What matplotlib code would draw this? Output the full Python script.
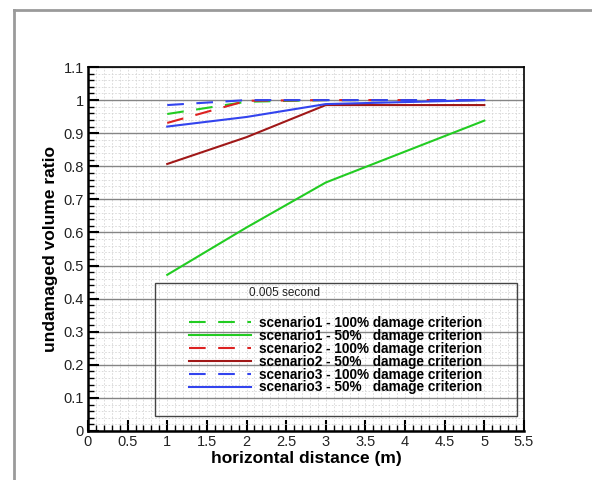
import matplotlib
matplotlib.use('Agg')
import matplotlib.pyplot as plt
from matplotlib.ticker import MultipleLocator
from matplotlib.patches import Rectangle
from matplotlib.lines import Line2D

plt.rcParams['font.family'] = ['Liberation Sans', 'DejaVu Sans']

# distances (m)
x = [1, 2, 3, 5]

# undamaged volume ratio per scenario
s1_100 = [0.958, 0.995, 1.0, 1.0]
s1_50 = [0.472, 0.615, 0.751, 0.938]
s2_100 = [0.931, 0.998, 1.0, 1.0]
s2_50 = [0.807, 0.888, 0.985, 0.985]
s3_100 = [0.985, 1.0, 1.0, 1.0]
s3_50 = [0.920, 0.949, 0.988, 1.0]

labels = ['scenario1 - 100% damage criterion',
          'scenario1 - 50%   damage criterion',
          'scenario2 - 100% damage criterion',
          'scenario2 - 50%   damage criterion',
          'scenario3 - 100% damage criterion',
          'scenario3 - 50%   damage criterion']

green = '#22cc22'
red_d = '#dd2222'
red_s = '#a01818'
blue = '#3344ee'
dash = (0, (8, 6))

fig = plt.figure(figsize=(5.92, 4.8), dpi=100)
ax = fig.add_axes([0.1486, 0.1021, 0.7365, 0.7583])

# outer frame (top + left) like the original screenshot
fig.add_artist(Line2D([14/592, 1.0], [1-10/480, 1-10/480], transform=fig.transFigure,
                      color='#9a9a9a', lw=2))
fig.add_artist(Line2D([14/592, 14/592], [0, 1-10/480], transform=fig.transFigure,
                      color='#9a9a9a', lw=2))

h1, = ax.plot(x, s1_100, color=green, lw=1.5, ls=dash)
h2, = ax.plot(x, s1_50, color=green, lw=1.5)
h3, = ax.plot(x, s2_100, color=red_d, lw=1.5, ls=dash)
h4, = ax.plot(x, s2_50, color=red_s, lw=1.5)
h5, = ax.plot(x, s3_100, color=blue, lw=1.5, ls=dash)
h6, = ax.plot(x, s3_50, color=blue, lw=1.5)

ax.set_xlim(0, 5.5)
ax.set_ylim(0, 1.1)
ax.xaxis.set_minor_locator(MultipleLocator(0.1))
ax.yaxis.set_minor_locator(MultipleLocator(0.02))
ax.set_yticks([0, 0.1, 0.2, 0.3, 0.4, 0.5, 0.6, 0.7, 0.8, 0.9, 1.0, 1.1])
ax.set_yticklabels(['0', '0.1', '0.2', '0.3', '0.4', '0.5', '0.6', '0.7', '0.8', '0.9', '1', '1.1'])
ax.set_xticks([0, 0.5, 1, 1.5, 2, 2.5, 3, 3.5, 4, 4.5, 5, 5.5])
ax.set_xticklabels(['0', '0.5', '1', '1.5', '2', '2.5', '3', '3.5', '4', '4.5', '5', '5.5'])

ax.grid(which='minor', color='#d6d6d6', ls=(0, (2, 2)), lw=0.6)
ax.grid(which='major', axis='x', color='#d6d6d6', ls=(0, (2, 2)), lw=0.6)
ax.grid(which='major', axis='y', color='#858585', ls='-', lw=1.0)
ax.set_axisbelow(True)

ax.tick_params(which='major', direction='in', length=8, width=1.5, labelsize=10.5, pad=3,
               labelcolor='#222222')
ax.tick_params(which='minor', direction='in', length=4, width=1)
for s in ['left', 'bottom']:
    ax.spines[s].set_linewidth(1.8)
for s in ['top', 'right']:
    ax.spines[s].set_linewidth(1.2)

ax.set_xlabel('horizontal distance (m)', fontsize=12.5, fontweight='bold', labelpad=1)
ax.set_ylabel('undamaged volume ratio', fontsize=12.5, fontweight='bold', labelpad=4)

# legend box
ax.add_patch(Rectangle((0.1537, 0.0412), 0.984 - 0.1537, 0.4066 - 0.0412,
                       transform=ax.transAxes, fill=False, ec='#444444', lw=1.0))
ax.text(0.369, 0.379, '0.005 second', transform=ax.transAxes, fontsize=8.5,
        ha='left', va='center', color='#222222')
leg = ax.legend([h1, h2, h3, h4, h5, h6], labels, loc='upper left',
                bbox_to_anchor=(0.215, 0.335), frameon=False, borderpad=0,
                handlelength=4.6, handletextpad=0.6, labelspacing=-0.08,
                prop={'weight': 'bold', 'size': 9.8})

fig.savefig('out.png', dpi=100)
